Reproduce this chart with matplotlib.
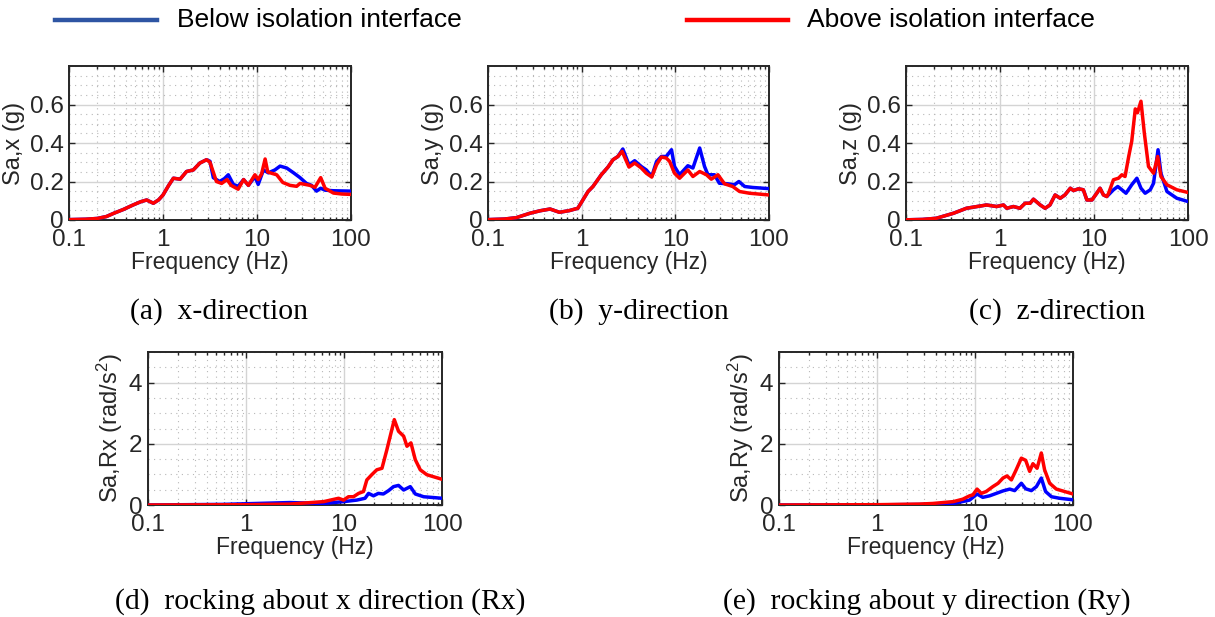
import matplotlib
matplotlib.use("Agg")
import matplotlib.pyplot as plt
from matplotlib.lines import Line2D
from matplotlib.ticker import FixedLocator, MultipleLocator, NullFormatter

plt.rcParams['font.family'] = ['Liberation Sans', 'DejaVu Sans']
plt.rcParams['mathtext.default'] = 'regular'

# ---------------- data: response spectra (frequency in Hz) ----------------
# (a) x-direction, Sa in g
fx_below = [0.1, 0.15, 0.2, 0.25, 0.3, 0.38, 0.48, 0.58, 0.67, 0.79, 0.9, 1.0, 1.15, 1.29, 1.52,
            1.78, 2.1, 2.47, 2.9, 3.16, 3.43, 4.0, 4.5, 4.95, 5.6, 6.3, 7.2, 8.1, 9.5, 10.3, 11.7,
            13.2, 15.5, 17.6, 20.7, 24.5, 28.7, 33.6, 38, 43, 47.5, 53, 65, 80, 100]
sx_below = [0.002, 0.004, 0.008, 0.018, 0.035, 0.055, 0.078, 0.095, 0.104, 0.087, 0.105, 0.13,
            0.18, 0.217, 0.212, 0.252, 0.26, 0.296, 0.313, 0.305, 0.22, 0.2, 0.215, 0.235, 0.185,
            0.175, 0.21, 0.18, 0.225, 0.185, 0.26, 0.245, 0.26, 0.28, 0.27, 0.245, 0.22, 0.19,
            0.18, 0.15, 0.165, 0.155, 0.152, 0.151, 0.15]
fx_above = [0.1, 0.15, 0.2, 0.25, 0.3, 0.38, 0.48, 0.58, 0.67, 0.79, 0.9, 1.0, 1.15, 1.29, 1.52,
            1.78, 2.1, 2.47, 2.9, 3.16, 3.7, 4.2, 4.8, 5.3, 6.3, 7.2, 8.1, 9.5, 10.3, 11.2, 12.2,
            13.0, 13.8, 16.2, 18.8, 22.4, 26.4, 28.7, 36.5, 41.4, 47.6, 53, 65, 80, 100]
sx_above = [0.002, 0.004, 0.008, 0.018, 0.035, 0.055, 0.078, 0.095, 0.104, 0.087, 0.105, 0.13,
            0.18, 0.217, 0.212, 0.252, 0.26, 0.296, 0.313, 0.3, 0.2, 0.19, 0.21, 0.18, 0.16, 0.21,
            0.18, 0.235, 0.21, 0.24, 0.317, 0.25, 0.245, 0.235, 0.195, 0.18, 0.175, 0.19, 0.18,
            0.17, 0.22, 0.165, 0.14, 0.135, 0.133]

# (b) y-direction, Sa in g
fy_below = [0.1, 0.15, 0.2, 0.28, 0.36, 0.46, 0.58, 0.74, 0.91, 1.03, 1.17, 1.32, 1.62, 1.91,
            2.16, 2.44, 2.75, 3.2, 3.68, 4.33, 4.9, 5.6, 6.3, 7.1, 8.0, 9.1, 9.8, 11.1, 13.6,
            15.4, 18.2, 20.5, 22.3, 26.2, 29.5, 36.3, 42.7, 47.7, 55, 67, 100]
sy_below = [0.002, 0.005, 0.012, 0.035, 0.048, 0.057, 0.04, 0.049, 0.061, 0.104, 0.148, 0.174,
            0.235, 0.275, 0.313, 0.33, 0.369, 0.287, 0.308, 0.278, 0.26, 0.226, 0.304, 0.33,
            0.33, 0.365, 0.278, 0.235, 0.282, 0.27, 0.374, 0.278, 0.235, 0.235, 0.191, 0.188,
            0.183, 0.2, 0.174, 0.169, 0.163]
fy_above = [0.1, 0.15, 0.2, 0.28, 0.36, 0.46, 0.58, 0.74, 0.91, 1.03, 1.17, 1.32, 1.62, 1.91,
            2.16, 2.44, 2.7, 3.2, 3.68, 4.33, 4.9, 5.6, 6.3, 7.1, 8.0, 8.7, 9.8, 11.1, 13.6, 15.4,
            18.2, 21.5, 24.2, 28.5, 33.5, 41, 48.5, 62, 100]
sy_above = [0.002, 0.005, 0.012, 0.035, 0.048, 0.057, 0.04, 0.049, 0.061, 0.104, 0.148, 0.174,
            0.235, 0.275, 0.313, 0.33, 0.357, 0.275, 0.296, 0.27, 0.243, 0.223, 0.287, 0.327,
            0.322, 0.304, 0.243, 0.217, 0.26, 0.226, 0.252, 0.235, 0.212, 0.235, 0.188, 0.174,
            0.148, 0.139, 0.13]

# (c) z-direction, Sa in g
fz_common = [0.1, 0.15, 0.21, 0.32, 0.44, 0.57, 0.72, 0.92, 1.09, 1.18, 1.39, 1.63, 1.85, 2.09,
             2.27, 2.68, 3.02, 3.4, 3.86, 4.37, 4.9, 5.6, 6.05, 6.84, 7.7, 8.4, 9.5, 10.7, 11.6,
             12.6, 13.7]
sz_common = [0.001, 0.003, 0.009, 0.035, 0.061, 0.07, 0.078, 0.07, 0.078, 0.061, 0.07, 0.061,
             0.087, 0.087, 0.108, 0.078, 0.061, 0.078, 0.13, 0.113, 0.13, 0.165, 0.153, 0.162,
             0.157, 0.104, 0.104, 0.139, 0.165, 0.13, 0.122]
fz_below = fz_common + [16.1, 17.9, 19.8, 21.9, 25.2, 28.6, 31.6, 35, 39.7, 43, 48, 51.5, 59.7,
                        76, 100]
sz_below = sz_common + [0.157, 0.174, 0.157, 0.139, 0.183, 0.217, 0.165, 0.139, 0.157, 0.191,
                        0.365, 0.243, 0.148, 0.113, 0.096]
fz_above = fz_common + [14.3, 16.1, 18.2, 19.8, 21.4, 23.4, 25.2, 27.5, 29, 31.6, 34.3, 38, 43,
                        47.6, 51.5, 59.7, 76, 100]
sz_above = sz_common + [0.139, 0.209, 0.217, 0.235, 0.226, 0.33, 0.409, 0.577, 0.557, 0.617,
                        0.452, 0.278, 0.243, 0.33, 0.226, 0.183, 0.157, 0.143]

# (d) rocking about x, Sa in rad/s^2
frx_below = [0.1, 0.58, 2.8, 6.2, 9.9, 13.5, 16.4, 17.8, 20, 22.4, 25.2, 28.5, 32, 36, 40.6,
             47.5, 53.4, 65, 100]
srx_below = [0.0, 0.02, 0.08, 0.05, 0.11, 0.16, 0.22, 0.38, 0.3, 0.38, 0.36, 0.47, 0.6, 0.64,
             0.49, 0.6, 0.36, 0.27, 0.22]
frx_above = [0.1, 1.0, 2.8, 6.2, 8.8, 9.9, 11.1, 12.5, 14.1, 15.8, 17.1, 19.2, 21.6, 24.4, 27.4,
             32.6, 36, 40.6, 43.9, 48.2, 53.4, 60, 70, 100]
srx_above = [0.0, 0.01, 0.03, 0.11, 0.22, 0.16, 0.27, 0.27, 0.38, 0.44, 0.82, 0.99, 1.15, 1.2,
             1.81, 2.79, 2.41, 2.25, 1.92, 2.03, 1.48, 1.15, 0.99, 0.84]

# (e) rocking about y, Sa in rad/s^2
fry_below = [0.1, 1.0, 3.0, 6.0, 8.8, 10.5, 12, 14.1, 16.5, 19.3, 22.6, 25.4, 29.7, 32.9, 37.6,
             42.3, 47.5, 52.5, 60.3, 73, 100]
sry_below = [0.0, 0.005, 0.02, 0.05, 0.16, 0.36, 0.25, 0.3, 0.38, 0.46, 0.52, 0.47, 0.71, 0.53,
             0.47, 0.6, 0.88, 0.44, 0.27, 0.22, 0.17]
fry_above = [0.1, 1.0, 2.7, 3.7, 6.0, 7.5, 8.8, 9.5, 10.5, 11.6, 13, 15.2, 17.2, 19.3, 21.2,
             23.5, 26.3, 29.7, 32.9, 36.1, 39, 43, 47.5, 51.3, 57.8, 67.6, 100]
sry_above = [0.0, 0.01, 0.03, 0.05, 0.11, 0.19, 0.3, 0.33, 0.52, 0.38, 0.44, 0.6, 0.71, 0.88,
             0.95, 0.82, 1.15, 1.53, 1.46, 1.1, 1.35, 1.2, 1.7, 1.15, 0.71, 0.52, 0.36]

x_ticks = [0.1, 1, 10, 100]
x_ticklabels = ['0.1', '1', '10', '100']

panels = [
    dict(fb=fx_below, sb=sx_below, fa=fx_above, sa=sx_above, ylabel='Sa,x (g)',
         caption='(a)  x-direction', yt=[0, 0.2, 0.4, 0.6], ytl=['0', '0.2', '0.4', '0.6'],
         ymax=0.8, yminor=0.05, box=(69, 351, 66, 220), cap_x=219, cap_y=312),
    dict(fb=fy_below, sb=sy_below, fa=fy_above, sa=sy_above, ylabel='Sa,y (g)',
         caption='(b)  y-direction', yt=[0, 0.2, 0.4, 0.6], ytl=['0', '0.2', '0.4', '0.6'],
         ymax=0.8, yminor=0.05, box=(488, 769, 66, 220), cap_x=639, cap_y=312),
    dict(fb=fz_below, sb=sz_below, fa=fz_above, sa=sz_above, ylabel='Sa,z (g)',
         caption='(c)  z-direction', yt=[0, 0.2, 0.4, 0.6], ytl=['0', '0.2', '0.4', '0.6'],
         ymax=0.8, yminor=0.05, box=(906, 1188, 66, 220), cap_x=1057, cap_y=312),
    dict(fb=frx_below, sb=srx_below, fa=frx_above, sa=srx_above,
         ylabel='Sa,Rx (rad/s$^{2}$)', caption='(d)  rocking about x direction (Rx)',
         yt=[0, 2, 4], ytl=['0', '2', '4'], ymax=5, yminor=0.5,
         box=(148, 442, 352, 505), cap_x=320, cap_y=602),
    dict(fb=fry_below, sb=sry_below, fa=fry_above, sa=sry_above,
         ylabel='Sa,Ry (rad/s$^{2}$)', caption='(e)  rocking about y direction (Ry)',
         yt=[0, 2, 4], ytl=['0', '2', '4'], ymax=5, yminor=0.5,
         box=(779, 1073, 352, 505), cap_x=927, cap_y=602),
]

W, H = 1215, 617
fig = plt.figure(figsize=(W / 100, H / 100), dpi=100)
ink = '#262626'

minor_x = [m * 10.0 ** e for e in (-1, 0, 1) for m in range(2, 10)]

for p in panels:
    l, r, t, b = p['box']
    ax = fig.add_axes([l / W, 1 - b / H, (r - l) / W, (b - t) / H])
    ax.set_xscale('log')
    ax.set_xlim(0.1, 100)
    ax.set_ylim(0, p['ymax'])

    ax.plot(p['fb'], p['sb'], color='#0000ff', lw=2.5, solid_joinstyle='round',
            solid_capstyle='round', zorder=3)
    ax.plot(p['fa'], p['sa'], color='#ff0000', lw=2.5, solid_joinstyle='round',
            solid_capstyle='round', zorder=4)

    ax.xaxis.set_major_locator(FixedLocator(x_ticks))
    ax.set_xticklabels(x_ticklabels)
    ax.xaxis.set_minor_locator(FixedLocator(minor_x))
    ax.xaxis.set_minor_formatter(NullFormatter())
    ax.set_yticks(p['yt'])
    ax.set_yticklabels(p['ytl'])
    ax.yaxis.set_minor_locator(MultipleLocator(p['yminor']))

    ax.grid(True, which='major', color='#d4d4d4', lw=1.0, zorder=0)
    ax.grid(True, which='minor', color='#b8b8b8', lw=0.8, ls=(0, (1, 4)), zorder=0)
    ax.set_axisbelow(True)

    ax.tick_params(which='both', direction='in', top=True, right=True, colors=ink,
                   labelsize=17.5, width=1.0)
    ax.tick_params(which='major', length=4)
    ax.tick_params(axis='x', which='major', pad=6.5)
    ax.tick_params(axis='y', which='major', pad=4)
    ax.tick_params(which='minor', length=2.5)
    ax.tick_params(axis='y', which='minor', length=0)
    for s in ax.spines.values():
        s.set_color(ink)
        s.set_linewidth(1.4)

    ax.set_xlabel('Frequency (Hz)', fontsize=16.5, color=ink, labelpad=0)
    ax.set_ylabel(p['ylabel'], fontsize=17, color=ink, labelpad=3)

    fig.text(p['cap_x'] / W, 1 - p['cap_y'] / H, p['caption'], ha='center', va='center',
             fontsize=21.3, family=['Liberation Serif', 'DejaVu Serif'], color='black')

# legend across the top
fig.add_artist(Line2D([55 / W, 157 / W], [1 - 20 / H, 1 - 20 / H], color='#2e55a3', lw=3.2))
fig.text(177 / W, 1 - 20 / H, 'Below isolation interface', ha='left', va='center',
         fontsize=19, color='black')
fig.add_artist(Line2D([687 / W, 788 / W], [1 - 20 / H, 1 - 20 / H], color='#ff0000', lw=3.2))
fig.text(807 / W, 1 - 20 / H, 'Above isolation interface', ha='left', va='center',
         fontsize=19, color='black')

fig.savefig('out.png', dpi=100, facecolor='white')
